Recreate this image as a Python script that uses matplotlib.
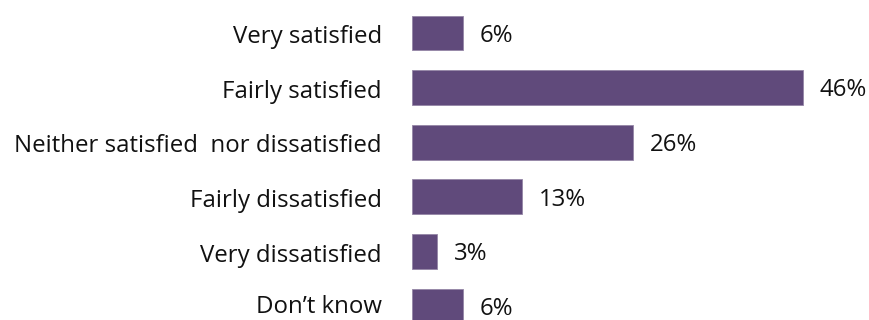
import matplotlib
matplotlib.use("Agg")
import matplotlib.pyplot as plt
import matplotlib.transforms as mtransforms

categories = ["Very satisfied", "Fairly satisfied", "Neither satisfied  nor dissatisfied",
              "Fairly dissatisfied", "Very dissatisfied", "Don\u2019t know"]
values = [6, 46, 26, 13, 3, 6]
value_labels = ["6%", "46%", "26%", "13%", "3%", "6%"]

plt.rcParams['font.family'] = ['Open Sans', 'DejaVu Sans']

fig = plt.figure(figsize=(8.7, 3.2), dpi=100)
ax = fig.add_axes([412 / 870, 0, 458 / 870, 1])

pos = list(range(len(categories)))
ax.barh(pos, values, height=0.64, color='#604A7B', edgecolor='#9485a6', linewidth=0.6)

ax.set_xlim(0, 458 / 8.5)
ax.set_ylim(5.256, -0.604)

ax.set_yticks(pos)
ax.set_yticklabels(categories, fontsize=17.3, color='#111111')
ax.tick_params(axis='y', length=0, pad=21.6)
# nudge category labels down a little, as in the original; keep the last one inside the figure
labels = ax.get_yticklabels()
for i, t in enumerate(labels):
    dy = -0.8 if i < len(labels) - 1 else 1.5
    t.set_transform(t.get_transform() +
                    mtransforms.ScaledTranslation(0, dy / 72, fig.dpi_scale_trans))
ax.set_xticks([])
for s in ax.spines.values():
    s.set_visible(False)

for p, v, lab in zip(pos, values, value_labels):
    ax.annotate(lab, (v, p), xytext=(12, -2), textcoords='offset points',
                va='center', ha='left', fontsize=17.3, color='#111111')

fig.savefig("out.png", dpi=100)
